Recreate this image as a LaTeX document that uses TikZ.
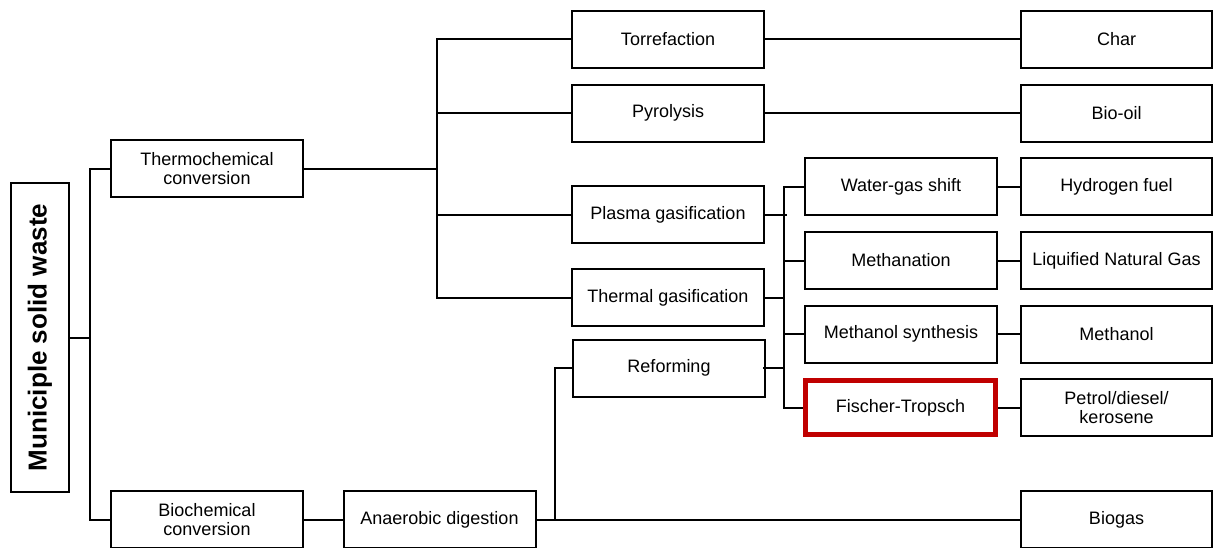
\documentclass[tikz,border=0pt]{standalone}
\usepackage{fontspec}
\setmainfont{Liberation Sans}
\definecolor{ftRed}{RGB}{192, 0, 0}

\begin{document}
\begin{tikzpicture}[x=1pt, y=-1pt,
    wasteBox/.style={draw, line width=2pt, minimum width=192pt, minimum height=57pt,
      inner sep=0pt, align=center, font=\fontsize{18}{19}\selectfont},
    endBox/.style={wasteBox, minimum width=191pt},
    keyBox/.style={wasteBox, draw=ftRed, line width=4.5pt, minimum width=190pt, minimum height=54pt},
    link/.style={line width=2pt}]
      \useasboundingbox (0,0) rectangle (1214,547);
      \clip (0,0) rectangle (1214,547);

      % root
      \node[draw, line width=2pt, rotate=90, minimum width=309pt, minimum height=58pt,
        inner sep=0pt, font=\fontsize{26}{28}\selectfont\bfseries] (msw) at (40,337.5) {Municiple solid waste};

      \node[wasteBox] (thermo) at (207,168.5) {Thermochemical\\conversion};
      \node[wasteBox] (bio) at (207,519.5) {Biochemical\\conversion};

      % processes
      \node[wasteBox] (torref) at (668,39) {Torrefaction};
      \node[wasteBox] (pyro) at (668,113) {Pyrolysis};
      \node[wasteBox] (plasma) at (668,214.5) {Plasma gasification};
      \node[wasteBox] (thermal) at (668,297.5) {Thermal gasification};
      \node[wasteBox] (reform) at (669,368) {Reforming};
      \node[wasteBox] (anaer) at (439.5,519.5) {Anaerobic digestion};

      % syngas routes
      \node[wasteBox] (wgs) at (901,186.5) {Water-gas shift};
      \node[wasteBox] (meth) at (901,260.5) {Methanation};
      \node[wasteBox] (meoh) at (901,334) {Methanol synthesis};
      \node[keyBox] (ft) at (900.5,407.5) {Fischer-Tropsch};

      % products
      \node[endBox] (char) at (1116.5,39) {Char};
      \node[endBox] (biooil) at (1116.5,113) {Bio-oil};
      \node[endBox] (hfuel) at (1116.5,186.5) {Hydrogen fuel};
      \node[endBox] (lng) at (1116.5,260.5) {Liquified Natural Gas};
      \node[endBox] (meoh2) at (1116.5,334) {Methanol};
      \node[endBox] (petrol) at (1116.5,407.5) {Petrol/diesel/\\kerosene};
      \node[endBox] (biogas) at (1116.5,519.5) {Biogas};

      \coordinate (j1) at (90,337.5);
      \coordinate (j2) at (437,168.5);
      \coordinate (j3) at (784,297.5);
      \coordinate (j4) at (555,519.5);

      \draw[link] (msw.south) -- (j1);
      \draw[link] (thermo.west) -| (j1) |- (bio.west);

      \draw[link] (thermo.east) -- (j2);
      \draw[link] (torref.west) -| (j2) |- (thermal.west);
      \draw[link] (pyro.west) -- (pyro.west -| j2);
      \draw[link] (plasma.west) -- (plasma.west -| j2);

      \draw[link] (torref.east) -- (char.west);
      \draw[link] (pyro.east) -- (biooil.west);

      % gasification to syngas routes
      \draw[link] (wgs.west) -| (j3) |- (ft.west);
      \draw[link] (thermal.east) -- (j3);
      \draw[link] (plasma.east) -- ([xshift=3pt]plasma.east -| j3);
      \draw[link] ([xshift=-3pt]reform.east) -- (reform.east -| j3);
      \draw[link] (meth.west) -- (meth.west -| j3);
      \draw[link] (meoh.west) -- (meoh.west -| j3);

      \draw[link] (wgs.east) -- (hfuel.west);
      \draw[link] (meth.east) -- (lng.west);
      \draw[link] (meoh.east) -- (meoh2.west);
      \draw[link] (ft.east) -- (petrol.west);

      % biochemical branch
      \draw[link] (bio.east) -- (anaer.west);
      \draw[link] (anaer.east) -- (biogas.west);
      \draw[link] (reform.west) -| (j4);
    \end{tikzpicture}
\end{document}
